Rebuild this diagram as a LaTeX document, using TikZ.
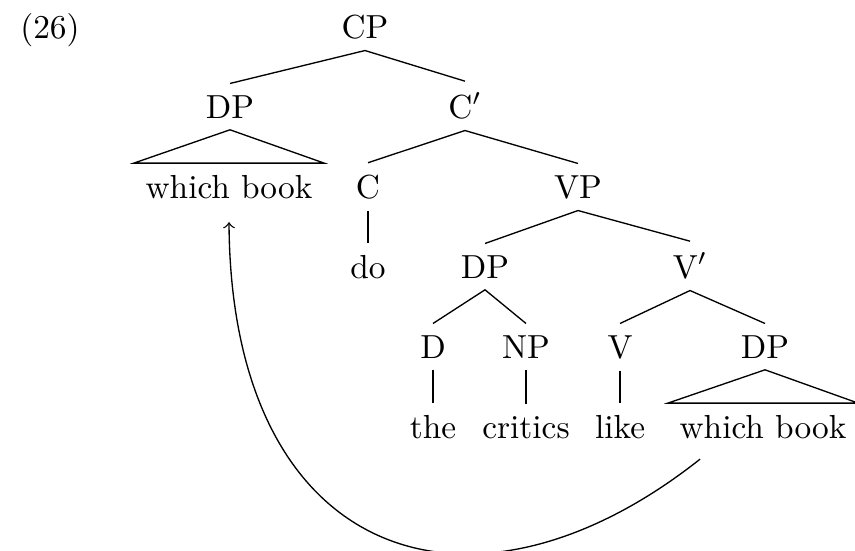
\documentclass[tikz,border=0pt]{standalone}
\usepackage{amsmath}
\usepackage{tikz}
\begin{document}
\begin{tikzpicture}[x=0.3pt,y=-0.3pt,lab/.style={anchor=base}]
                \useasboundingbox (0,0) rectangle (855,550);
                \node[lab] (ex) at (50,38) {(26)};
                \node[lab] (cp) at (365,38) {CP};
                \node[lab] (dpa) at (230,118) {DP};
                \node[lab] (cbar) at (465,118) {C$'$};
                \node[lab] (wba) at (229,198) {which book};
                \node[lab] (c) at (368,198) {C};
                \node[lab] (vp) at (578,198) {VP};
                \node[lab] (do) at (368,278) {do};
                \node[lab] (dpb) at (485,278) {DP};
                \node[lab] (vbar) at (690,278) {V$'$};
                \node[lab] (d) at (433,358) {D};
                \node[lab] (np) at (526,358) {NP};
                \node[lab] (v) at (620,358) {V};
                \node[lab] (dpc) at (765,358) {DP};
                \node[lab] (the) at (433,438) {the};
                \node[lab] (critics) at (526,438) {critics};
                \node[lab] (like) at (620,438) {like};
                \node[lab] (wbb) at (763,438) {which book};
                \draw (dpa.north) -- (cp.south) -- (cbar.north);
                \draw (dpa.south) -- (wba.north west) -- (wba.north east) -- cycle;
                \draw (c.north) -- (cbar.south) -- (vp.north);
                \draw (c.south) -- (do.north);
                \draw (dpb.north) -- (vp.south) -- (vbar.north);
                \draw (d.north) -- (dpb.south) -- (np.north);
                \draw (v.north) -- (vbar.south) -- (dpc.north);
                \draw (d.south) -- (the.north);
                \draw (np.south) -- (critics.north);
                \draw (v.south) -- (like.north);
                \draw (dpc.south) -- (wbb.north west) -- (wbb.north east) -- cycle;
                \draw[->] ([shift={(-63,9)}]wbb.south) .. controls +(-230,182) and +(2,338) .. ([shift={(0,12)}]wba.south);
            \end{tikzpicture}
\end{document}
